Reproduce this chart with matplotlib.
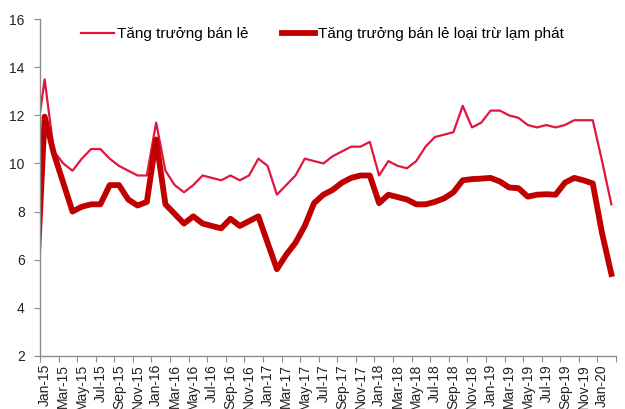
import matplotlib
matplotlib.use("Agg")
import matplotlib.pyplot as plt

# monthly series, Dec-14 .. Feb-20 (Dec-14 is cut off by the axis start)
months = ["Dec-14"] + [f"{m}-{y}" for y in range(15, 21)
                       for m in ["Jan", "Feb", "Mar", "Apr", "May", "Jun",
                                 "Jul", "Aug", "Sep", "Oct", "Nov", "Dec"]][:62]

retail = [10.7,
          13.5, 10.5, 10.0, 9.7, 10.2, 10.6, 10.6, 10.2, 9.9, 9.7, 9.5, 9.5,
          11.7, 9.7, 9.1, 8.8, 9.1, 9.5, 9.4, 9.3, 9.5, 9.3, 9.5, 10.2,
          9.9, 8.7, 9.1, 9.5, 10.2, 10.1, 10.0, 10.3, 10.5, 10.7, 10.7, 10.9,
          9.5, 10.1, 9.9, 9.8, 10.1, 10.7, 11.1, 11.2, 11.3, 12.4, 11.5, 11.7,
          12.2, 12.2, 12.0, 11.9, 11.6, 11.5, 11.6, 11.5, 11.6, 11.8, 11.8, 11.8,
          10.1, 8.3]

retail_real = [3.9,
               11.95, 10.4, 9.2, 8.0, 8.2, 8.3, 8.3, 9.1, 9.1, 8.5, 8.25, 8.4,
               11.0, 8.3, 7.9, 7.5, 7.8, 7.5, 7.4, 7.3, 7.7, 7.4, 7.6, 7.8,
               6.7, 5.6, 6.2, 6.7, 7.4, 8.35, 8.7, 8.9, 9.2, 9.4, 9.5, 9.5,
               8.35, 8.7, 8.6, 8.5, 8.3, 8.3, 8.4, 8.55, 8.8, 9.3, 9.35, 9.37,
               9.4, 9.25, 9.0, 8.97, 8.62, 8.7, 8.72, 8.7, 9.2, 9.4, 9.3, 9.17,
               7.1, 5.4]

labels = ["Tăng trưởng bán lẻ", "Tăng trưởng bán lẻ loại trừ lạm phát"]

plt.rcParams["font.family"] = ["Liberation Sans", "DejaVu Sans"]

# points sit in the middle of each month; index 0 = start of Jan-15
x = [i - 1 + 0.5 for i in range(len(months))]

fig = plt.figure(figsize=(6.25, 4.09), dpi=100)
ax = fig.add_axes([40 / 625, 1 - 355.7 / 409, (616 - 40) / 625, (355.7 - 19.3) / 409])

ax.plot(x, retail, color="#E2153F", lw=1.6, label=labels[0], solid_joinstyle="round")
ax.plot(x, retail_real, color="#C00000", lw=4.2, label=labels[1], solid_joinstyle="round")

ax.set_xlim(0, 62)
ax.set_ylim(2, 16)
ax.set_yticks(range(2, 17, 2))

ax.set_xticks(range(0, 63, 2))
ax.set_xticklabels([])
ax.set_xticks([i + 0.5 for i in range(0, 61, 2)], minor=True)
ax.set_xticklabels([months[i + 1] for i in range(0, 61, 2)], minor=True, rotation=90)

for s in ["top", "right"]:
    ax.spines[s].set_visible(False)
for s in ["left", "bottom"]:
    ax.spines[s].set_color("#8c8c8c")
    ax.spines[s].set_linewidth(1.0)

ax.tick_params(axis="y", which="major", length=4, color="#8c8c8c", labelsize=10, labelcolor="#222222", pad=7)
ax.tick_params(axis="x", which="major", length=4, color="#8c8c8c", direction="out")
ax.tick_params(axis="x", which="minor", length=0, labelsize=10, labelcolor="#222222", pad=6)

ax.legend(loc="upper center", bbox_to_anchor=(0.49, 1.0), ncol=2, frameon=False,
          fontsize=11, handlelength=2.2, handletextpad=0.15, columnspacing=2.2,
          borderaxespad=0.1)

fig.savefig("out.png", dpi=100)
